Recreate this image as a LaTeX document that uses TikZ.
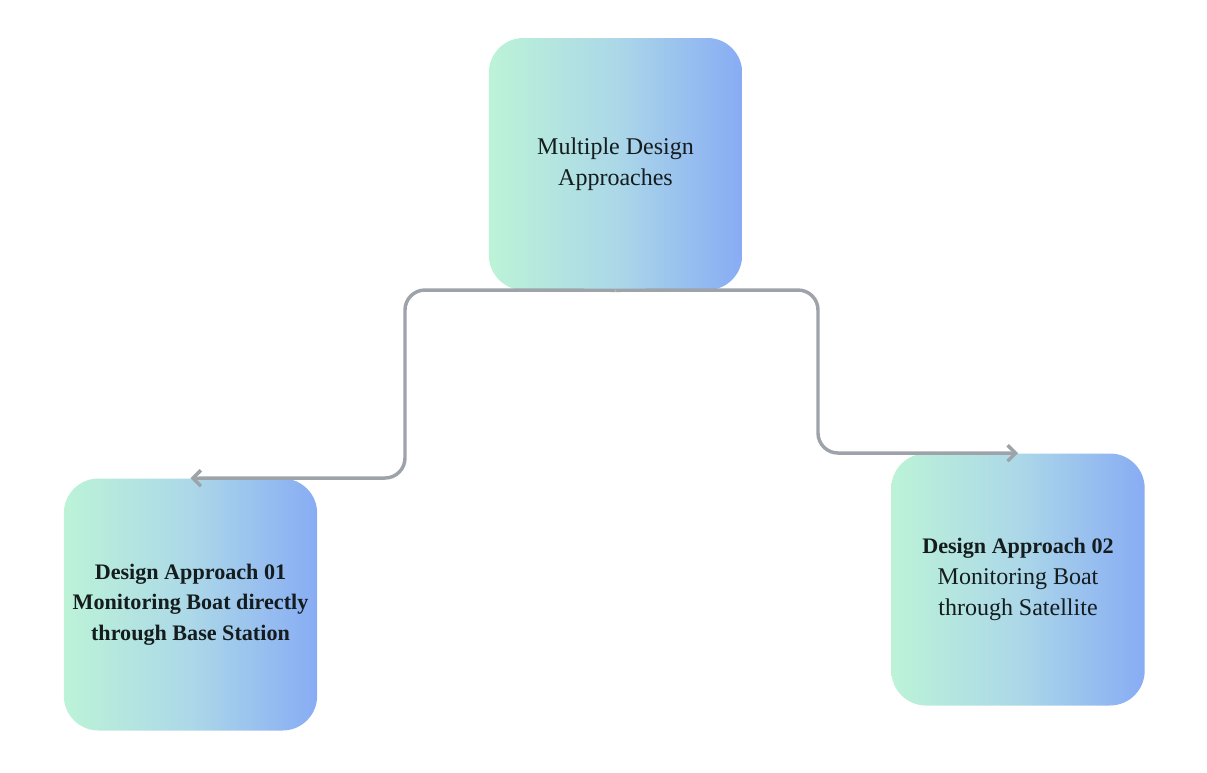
\documentclass[tikz,border=0pt]{standalone}
\usepackage{fontspec}
\setmainfont{Liberation Serif}
\usetikzlibrary{arrows.meta}
\definecolor{gleft}{RGB}{188,243,215}
\definecolor{gmid}{RGB}{172,216,232}
\definecolor{gright}{RGB}{136,172,244}
\definecolor{conncol}{RGB}{158,163,170}
\definecolor{txt}{RGB}{20,28,30}
\newcommand{\bl}[1]{{\fontsize{16.6}{23}\selectfont\bfseries #1}}
\tikzset{
  box/.style={rounded corners=26pt, minimum width=190pt, minimum height=189pt,
    left color=gleft, right color=gright, middle color=gmid, draw=none,
    align=center, text=txt, font=\fontsize{18}{23}\selectfont, inner sep=0pt},
  conn/.style={draw=conncol, line width=2.6pt, rounded corners=15pt,
    -{Straight Barb[length=6pt,width=12pt]}}
}
\begin{document}
\begin{tikzpicture}[x=0.75pt,y=-0.75pt]
\useasboundingbox (0,0) rectangle (1207,772);
\node[box] (top) at (615.5,164) {Multiple Design\\Approaches};
\node[box] (left) at (190.5,604.5) {\bl{Design Approach 01}\\\bl{Monitoring Boat directly}\\\bl{through Base Station}};
\node[box] (right) at (1018,579.5) {\bl{Design Approach 02}\\Monitoring Boat\\through Satellite};
\draw[conn] (top.south) -- (405,290) -- (405,478) -- (left.north);
\draw[conn] (top.south) -- (818,290) -- (818,453) -- (right.north);
\end{tikzpicture}
\end{document}
